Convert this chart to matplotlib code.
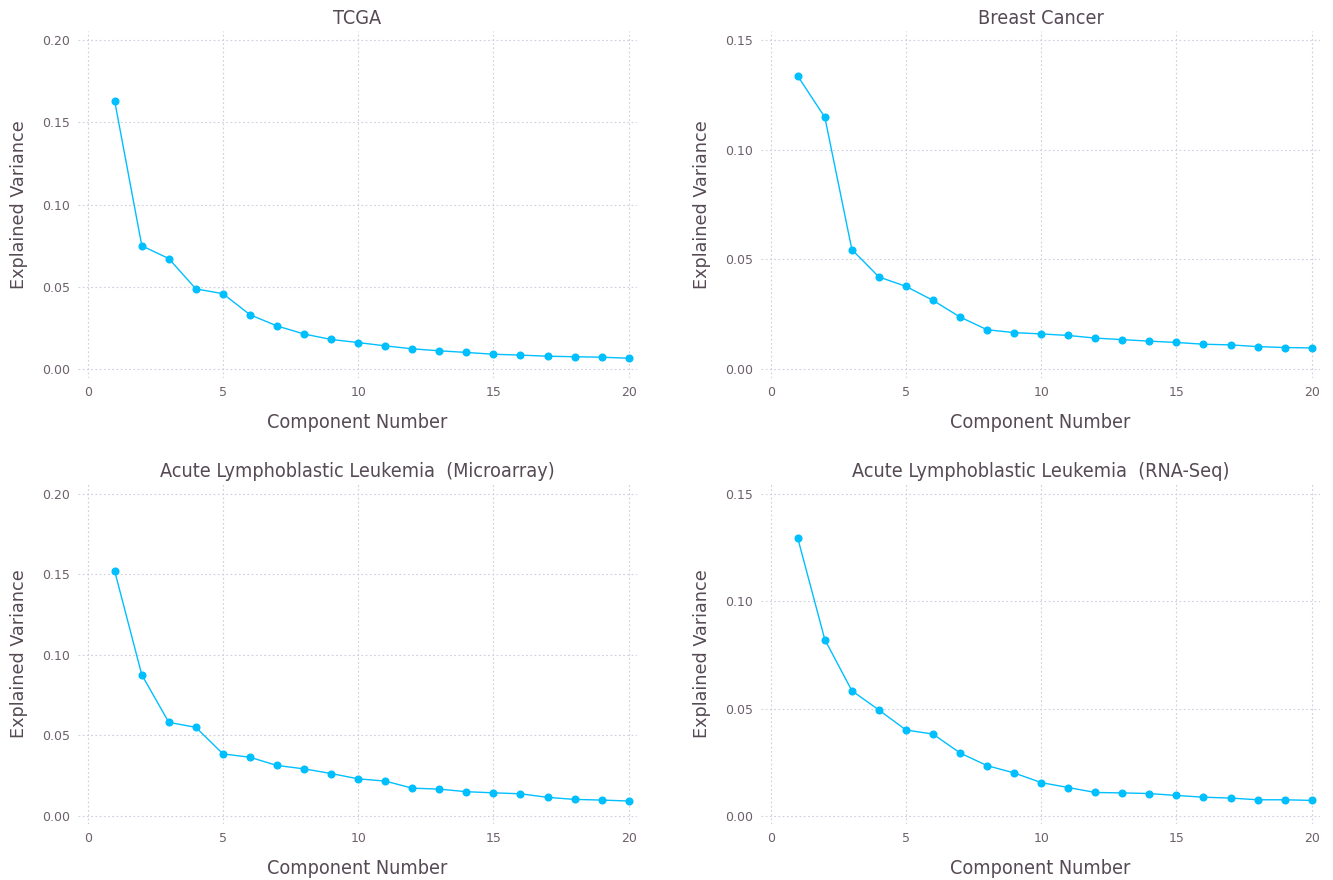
import matplotlib
matplotlib.use("Agg")
import matplotlib.pyplot as plt
import numpy as np

LINE = "#00BFFF"
GRID = "#D0D0E0"
MINOR = "#6c606b"
MAJOR = "#564a55"
plt.rcParams.update({"font.family": "DejaVu Sans"})

components = np.arange(1, 21)

tcga = [0.1627, 0.0750, 0.0672, 0.0488, 0.0459, 0.0331, 0.0263, 0.0214, 0.0181, 0.0162,
        0.0142, 0.0124, 0.0112, 0.0102, 0.0091, 0.0086, 0.0079, 0.0076, 0.0073, 0.0067]
breast = [0.1337, 0.1149, 0.0545, 0.0420, 0.0377, 0.0313, 0.0237, 0.0179, 0.0166, 0.0160,
          0.0153, 0.0141, 0.0134, 0.0127, 0.0121, 0.0113, 0.0110, 0.0102, 0.0098, 0.0096]
all_micro = [0.1519, 0.0875, 0.0580, 0.0549, 0.0384, 0.0363, 0.0312, 0.0291, 0.0262, 0.0229,
             0.0215, 0.0171, 0.0165, 0.0149, 0.0142, 0.0136, 0.0114, 0.0101, 0.0097, 0.0091]
all_rna = [0.1294, 0.0822, 0.0584, 0.0494, 0.0401, 0.0382, 0.0294, 0.0235, 0.0201, 0.0156,
           0.0133, 0.0110, 0.0108, 0.0105, 0.0096, 0.0088, 0.0084, 0.0076, 0.0076, 0.0073]

titles = ["TCGA", "Breast Cancer",
          "Acute Lymphoblastic Leukemia  (Microarray)", "Acute Lymphoblastic Leukemia  (RNA-Seq)"]
series = [tcga, breast, all_micro, all_rna]
yticks = [[0, 0.05, 0.10, 0.15, 0.20], [0, 0.05, 0.10, 0.15],
          [0, 0.05, 0.10, 0.15, 0.20], [0, 0.05, 0.10, 0.15]]
ylims = [(-0.0053, 0.2055), (-0.0041, 0.1543), (-0.0052, 0.2062), (-0.0037, 0.1547)]
xticks = [0, 5, 10, 15, 20]

fig = plt.figure(figsize=(13.33, 8.8), dpi=100)
boxes = [(0.0585, 0.5705, 0.4194, 0.3943), (0.5709, 0.5705, 0.4194, 0.3943),
         (0.0585, 0.0636, 0.4194, 0.3864), (0.5709, 0.0636, 0.4194, 0.3864)]

for box, title, vals, yt, yl in zip(boxes, titles, series, yticks, ylims):
    ax = fig.add_axes(box)
    ax.plot(components, vals, color=LINE, lw=1.0, marker="o", ms=4.8, mec=LINE, mfc=LINE)
    ax.set_xlim(-0.36, 20.31)
    ax.set_ylim(*yl)
    ax.set_xticks(xticks)
    ax.set_yticks(yt)
    ax.set_yticklabels([f"{v:.2f}" for v in yt])
    for s in ax.spines.values():
        s.set_visible(False)
    ax.grid(True, color=GRID, ls=(0, (1.6, 2.2)), lw=0.8)
    ax.set_axisbelow(True)
    ax.tick_params(length=0, labelsize=9, colors=MINOR, pad=6)
    ax.set_title(title, fontsize=14.2, color=MAJOR, pad=5, fontstretch="condensed")
    ax.set_xlabel("Component Number", fontsize=14.2, color=MAJOR, labelpad=10,
                  fontstretch="condensed")
    ax.set_ylabel("Explained Variance", fontsize=12.7, color=MAJOR, labelpad=10)

fig.savefig("out.png", dpi=100)
